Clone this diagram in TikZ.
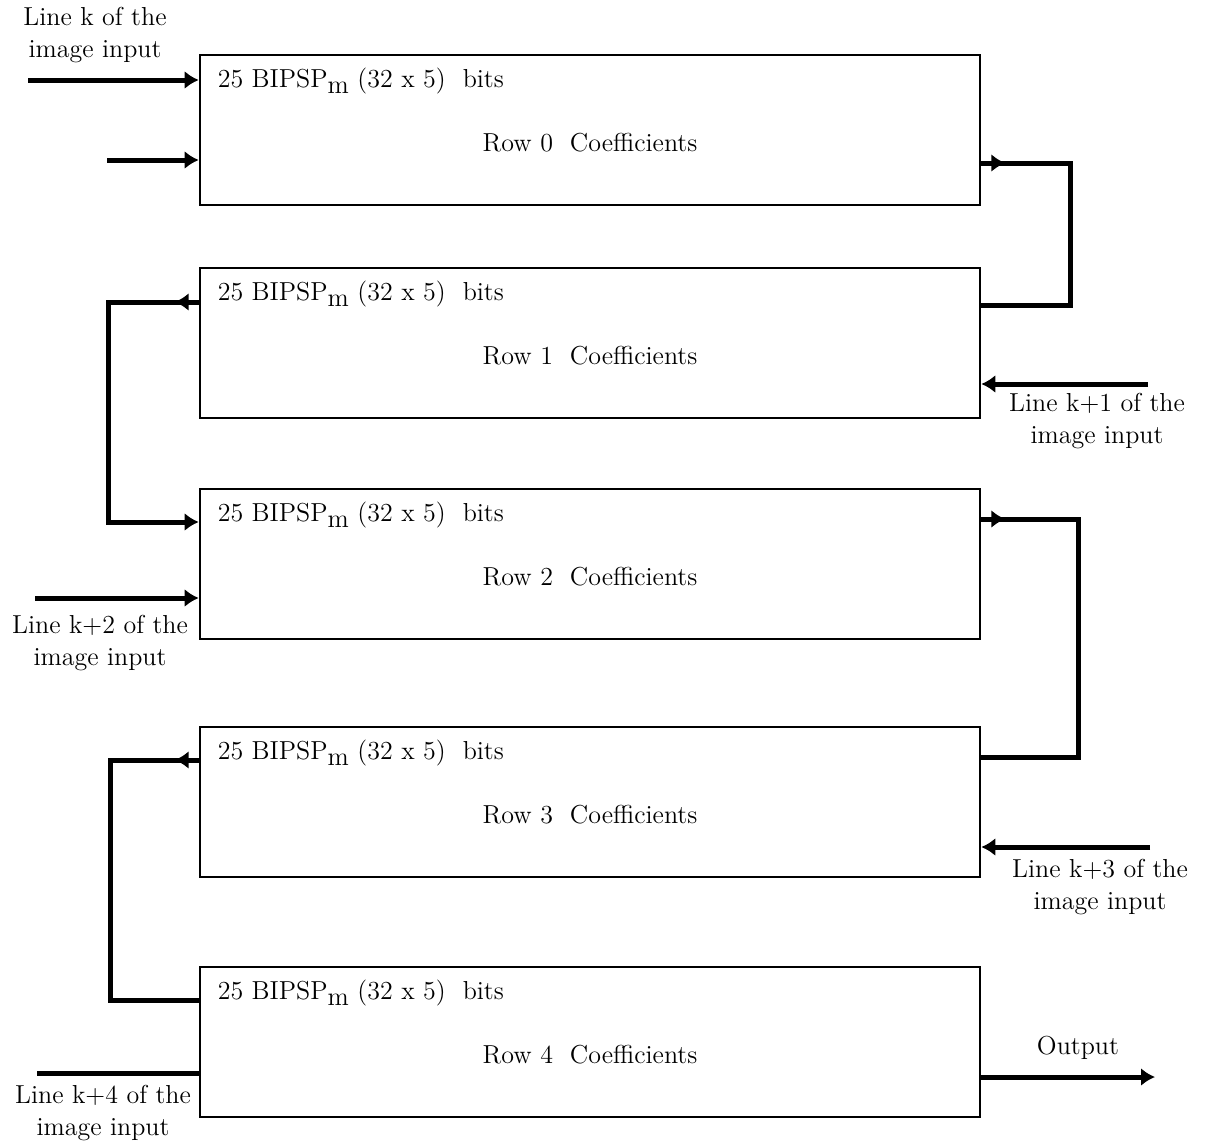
\documentclass[tikz,border=0pt]{standalone}
\usepackage{tikz}
\usetikzlibrary{arrows.meta, decorations.markings, calc}
\tikzset{>=Latex}

\begin{document}
\begin{tikzpicture}[x=0.5pt, y=-0.5pt,
    font=\fontsize{13}{16}\selectfont,
    rowbox/.style={draw, line width=1.3pt, minimum width=390pt, minimum height=75pt, inner sep=0pt},
    wire/.style={line width=2.5pt},
    tip/.style={-{Latex[length=7pt,width=9pt]}},
    outmark/.style={postaction={decorate}, decoration={markings,
        mark=at position 12pt with {\arrow{Latex[length=7pt,width=9pt]}}}}]

    \useasboundingbox (0,0) rectangle (1209,1146);

\foreach \i/\y in {0/130, 1/343, 2/564, 3/802, 4/1042} {
      \node[rowbox] (row\i) at (590, \y) {};
      \node[anchor=west] (bits\i) at ($(row\i.north west) + (12, 27)$)
        {25 BIPSP\raisebox{-0.6ex}{m} (32 x 5)\ \ bits};
      \node (coef\i) at ($(row\i.center) + (0, 13)$) {Row \i\ \ Coefficients};
}

    % inputs on the left of row 0
    \coordinate (k0) at (28, 80);
    \coordinate (k0b) at (107, 160);
    \draw[wire, tip] (k0) -- (k0 -| row0.west);
    \draw[wire, tip] (k0b) -- (k0b -| row0.west);
    \node[align=center] (lk0) at (95, 35) {Line k of the\\image input};

    % row 0 -> row 1
    \draw[wire, outmark] (row0.east |- 0,163) -- (1070, 163) |- (row1.east |- 0,305);

    \coordinate (k1) at (1148, 384);
    \draw[wire, tip] (k1) -- (k1 -| row1.east);
    \node[align=center] (lk1) at (1097, 421) {Line k+1 of the\\image input};

    % row 1 -> row 2
    \draw[wire, outmark, tip] (row1.west |- 0,302) -- (108, 302) |- (row2.west |- 0,522);

    \coordinate (k2) at (35, 598);
    \draw[wire, tip] (k2) -- (k2 -| row2.west);
    \node[align=center] (lk2) at (100, 643) {Line k+2 of the\\image input};

    % row 2 -> row 3
    \draw[wire, outmark] (row2.east |- 0,519) -- (1078, 519) |- (row3.east |- 0,757);

    \coordinate (k3) at (1150, 847);
    \draw[wire, tip] (k3) -- (k3 -| row3.east);
    \node[align=center] (lk3) at (1100, 887) {Line k+3 of the\\image input};

    % row 3 -> row 4
    \draw[wire, outmark] (row3.west |- 0,760) -- (110, 760) |- (row4.west |- 0,1000);

    \coordinate (k4) at (37, 1073);
    \draw[wire] (k4) -- (k4 -| row4.west);
    \node[align=center] (lk4) at (103, 1113) {Line k+4 of the\\image input};

    % output
    \coordinate (out) at (1155, 1077);
    \draw[wire, tip] (out -| row4.east) -- (out);
    \node (outlab) at (1078, 1048) {Output};

\end{tikzpicture}
\end{document}
